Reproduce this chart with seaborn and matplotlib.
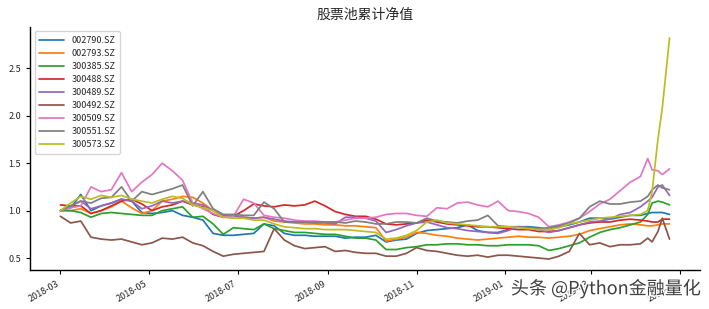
import numpy as np
import pandas as pd
import matplotlib
matplotlib.use("Agg")
import matplotlib.pyplot as plt
import matplotlib.dates as mdates
import matplotlib.patheffects as pe
import seaborn as sns

# ---- data ----
weekly_dates = pd.date_range("2018-03-01", "2019-04-04", freq="7D")
extra_dates = pd.to_datetime(["2019-04-09", "2019-04-12", "2019-04-16", "2019-04-19", "2019-04-24"])
dates = list(weekly_dates) + list(extra_dates)

stocks = ["002790.SZ", "002793.SZ", "300385.SZ", "300488.SZ", "300489.SZ",
          "300492.SZ", "300509.SZ", "300551.SZ", "300573.SZ"]

s002790 = [1.00, 1.03, 1.17, 1.00, 1.05, 1.08, 1.12, 1.10, 0.98, 0.97, 0.98, 1.00, 0.95, 0.93, 0.90, 0.76,
           0.74, 0.74, 0.75, 0.76, 0.86, 0.84, 0.76, 0.74, 0.74, 0.73, 0.73, 0.73, 0.71, 0.72, 0.72, 0.74,
           0.67, 0.69, 0.70, 0.76, 0.79, 0.80, 0.81, 0.82, 0.85, 0.79, 0.77, 0.77, 0.80, 0.83, 0.83, 0.82,
           0.80, 0.83, 0.85, 0.88, 0.92, 0.92, 0.91, 0.93, 0.95, 0.95,
           0.97, 0.98, 0.98, 0.98, 0.96]
s002793 = [1.00, 1.00, 1.02, 0.97, 1.00, 1.04, 1.10, 1.03, 0.97, 1.00, 1.10, 1.12, 1.15, 1.14, 1.08, 1.00,
           0.95, 0.95, 0.93, 0.92, 0.93, 0.89, 0.88, 0.87, 0.86, 0.86, 0.85, 0.85, 0.84, 0.84, 0.83, 0.82,
           0.68, 0.70, 0.72, 0.77, 0.76, 0.74, 0.73, 0.71, 0.70, 0.69, 0.70, 0.71, 0.72, 0.73, 0.72, 0.72,
           0.71, 0.72, 0.73, 0.75, 0.79, 0.81, 0.83, 0.85, 0.86, 0.85,
           0.84, 0.84, 0.85, 0.86, 0.86]
s300385 = [1.00, 1.00, 0.98, 0.93, 0.97, 0.98, 0.97, 0.96, 0.95, 0.95, 1.00, 1.02, 1.04, 0.93, 0.94, 0.86,
           0.75, 0.82, 0.81, 0.80, 0.86, 0.81, 0.79, 0.77, 0.77, 0.76, 0.75, 0.75, 0.73, 0.71, 0.71, 0.69,
           0.59, 0.59, 0.61, 0.62, 0.64, 0.64, 0.65, 0.65, 0.64, 0.64, 0.63, 0.63, 0.64, 0.64, 0.64, 0.63,
           0.58, 0.60, 0.63, 0.66, 0.72, 0.77, 0.80, 0.82, 0.85, 0.88,
           0.96, 1.08, 1.10, 1.09, 1.06]
s300488 = [1.06, 1.05, 1.05, 0.97, 1.00, 1.05, 1.10, 1.12, 1.07, 1.00, 1.04, 1.06, 1.10, 1.06, 1.04, 0.96,
           0.93, 0.94, 1.00, 1.07, 1.05, 1.04, 1.06, 1.05, 1.06, 1.10, 1.05, 0.99, 0.96, 0.94, 0.94, 0.91,
           0.86, 0.85, 0.86, 0.87, 0.90, 0.88, 0.86, 0.85, 0.84, 0.83, 0.83, 0.82, 0.81, 0.80, 0.80, 0.78,
           0.78, 0.79, 0.82, 0.85, 0.87, 0.88, 0.88, 0.90, 0.91, 0.90,
           0.89, 0.88, 0.88, 0.91, 0.91]
s300489 = [1.00, 1.05, 1.10, 1.02, 1.05, 1.08, 1.12, 1.10, 1.02, 1.05, 1.10, 1.08, 1.10, 1.08, 1.06, 1.00,
           0.95, 0.94, 0.93, 0.92, 0.93, 0.91, 0.89, 0.88, 0.88, 0.87, 0.87, 0.86, 0.93, 0.93, 0.92, 0.89,
           0.77, 0.80, 0.84, 0.87, 0.88, 0.85, 0.82, 0.81, 0.79, 0.78, 0.77, 0.76, 0.79, 0.83, 0.82, 0.80,
           0.77, 0.79, 0.82, 0.85, 0.88, 0.89, 0.91, 0.96, 0.98, 1.04,
           1.10, 1.14, 1.25, 1.27, 1.16]
s300492 = [0.94, 0.87, 0.89, 0.72, 0.70, 0.69, 0.70, 0.67, 0.64, 0.66, 0.71, 0.70, 0.72, 0.66, 0.63, 0.57,
           0.52, 0.54, 0.55, 0.56, 0.57, 0.81, 0.69, 0.63, 0.60, 0.61, 0.62, 0.57, 0.58, 0.56, 0.55, 0.55,
           0.52, 0.52, 0.55, 0.61, 0.58, 0.57, 0.55, 0.53, 0.52, 0.53, 0.51, 0.53, 0.53, 0.52, 0.51, 0.50,
           0.49, 0.52, 0.57, 0.76, 0.64, 0.66, 0.62, 0.64, 0.64, 0.65,
           0.71, 0.67, 0.78, 0.92, 0.70]
s300509 = [1.00, 1.03, 1.05, 1.25, 1.20, 1.22, 1.40, 1.20, 1.30, 1.38, 1.50, 1.42, 1.32, 1.08, 1.02, 0.97,
           0.93, 0.94, 1.12, 1.08, 0.95, 0.93, 0.92, 0.90, 0.89, 0.89, 0.88, 0.88, 0.90, 0.92, 0.92, 0.93,
           0.96, 0.97, 0.97, 0.95, 0.94, 1.03, 1.02, 1.08, 1.09, 1.06, 1.04, 1.10, 1.00, 0.99, 0.97, 0.93,
           0.83, 0.85, 0.88, 0.92, 0.99, 1.07, 1.12, 1.21, 1.30, 1.36,
           1.55, 1.43, 1.42, 1.38, 1.44]
s300551 = [1.00, 1.05, 1.10, 1.08, 1.13, 1.14, 1.25, 1.10, 1.20, 1.17, 1.20, 1.23, 1.27, 1.05, 1.20, 1.02,
           0.96, 0.96, 0.95, 0.95, 1.09, 1.02, 0.88, 0.88, 0.88, 0.88, 0.88, 0.88, 0.87, 0.89, 0.88, 0.86,
           0.86, 0.88, 0.88, 0.87, 0.92, 0.89, 0.88, 0.87, 0.89, 0.90, 0.95, 0.84, 0.83, 0.83, 0.82, 0.81,
           0.82, 0.84, 0.87, 0.92, 1.04, 1.10, 1.07, 1.07, 1.09, 1.10,
           1.15, 1.22, 1.27, 1.24, 1.22]
s300573 = [1.00, 1.08, 1.15, 1.12, 1.16, 1.14, 1.16, 1.12, 1.10, 1.08, 1.12, 1.15, 1.13, 1.06, 1.03, 1.00,
           0.93, 0.92, 0.92, 0.90, 0.90, 0.86, 0.83, 0.82, 0.81, 0.81, 0.80, 0.80, 0.80, 0.79, 0.78, 0.77,
           0.70, 0.71, 0.74, 0.79, 0.88, 0.90, 0.87, 0.86, 0.85, 0.84, 0.83, 0.83, 0.83, 0.82, 0.81, 0.80,
           0.80, 0.82, 0.86, 0.88, 0.90, 0.92, 0.93, 0.94, 0.95, 0.96,
           1.00, 1.20, 1.75, 2.08, 2.82]

title = "股票池累计净值"
watermark = "头条 @Python金融量化"

series = [s002790, s002793, s300385, s300488, s300489, s300492, s300509, s300551, s300573]
frames = [pd.DataFrame({"date": dates, "stock": name, "nav": vals}) for name, vals in zip(stocks, series)]
df = pd.concat(frames, ignore_index=True)

# ---- style ----
sns.set_style("ticks")
plt.rcParams["font.family"] = ["Noto Sans CJK SC", "DejaVu Sans"]
plt.rcParams["axes.unicode_minus"] = False

fig = plt.figure(figsize=(7.09, 3.09), dpi=100)
ax = fig.add_axes([0.0423, 0.126, 0.945, 0.787])

sns.lineplot(data=df, x="date", y="nav", hue="stock", hue_order=stocks,
             palette="tab10", linewidth=1.25, ax=ax)

ax.set_xlabel("")
ax.set_ylabel("")
ax.set_title(title, fontsize=10, pad=6)
sns.despine(ax=ax)
for sp in ["left", "bottom"]:
    ax.spines[sp].set_color("black")
    ax.spines[sp].set_linewidth(1.0)

ax.xaxis.set_major_locator(mdates.MonthLocator(bymonth=[1, 3, 5, 7, 9, 11]))
ax.xaxis.set_major_formatter(mdates.DateFormatter("%Y-%m"))
ax.tick_params(axis="both", labelsize=6.5, length=3, width=0.8, color="black")
for lab in ax.get_xticklabels():
    lab.set_rotation(30)
    lab.set_ha("right")

h, l = ax.get_legend_handles_labels()
ax.legend(h, l, loc="upper left", fontsize=6.5, handlelength=2.8,
          labelspacing=0.45, borderpad=0.5, frameon=True)

fig.text(0.988, 0.035, watermark, ha="right", va="bottom", fontsize=13, color="#404040",
         path_effects=[pe.withStroke(linewidth=2, foreground="white")])

fig.savefig("out.png", dpi=100)
